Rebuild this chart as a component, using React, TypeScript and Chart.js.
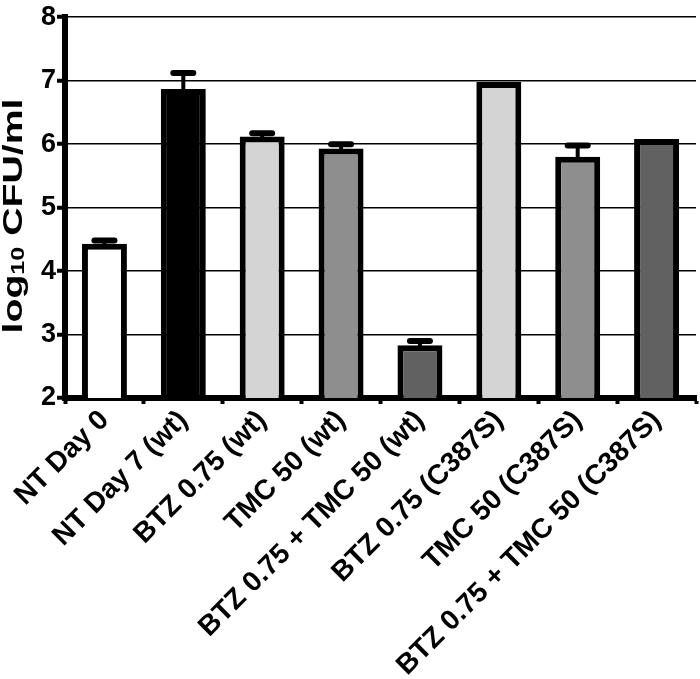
import React, { useEffect, useRef } from "react";
import { Chart, registerables } from "chart.js";

Chart.register(...registerables);

const categories = [
  "NT Day 0",
  "NT Day 7 (wt)",
  "BTZ 0.75 (wt)",
  "TMC 50 (wt)",
  "BTZ 0.75 + TMC 50 (wt)",
  "BTZ 0.75 (C387S)",
  "TMC 50 (C387S)",
  "BTZ 0.75 + TMC 50 (C387S)",
];
const meanValues = [4.43, 6.87, 6.12, 5.93, 2.83, 6.98, 5.8, 6.08];
const errorUpper = [4.48, 7.12, 6.17, 6.0, 2.9, 6.99, 5.98, 6.08];
const fillColors = ["#ffffff", "#000000", "#d4d4d4", "#8e8e8e", "#616161", "#d4d4d4", "#8e8e8e", "#616161"];
const yMin = 2;
const yMax = 8;
const yStep = 1;

const FONT = "'Liberation Sans', Arial, sans-serif";

const errorBarPlugin = {
  id: "errorBars",
  beforeDatasetsDraw(chart: any) {
    const ctx = chart.ctx;
    const meta = chart.getDatasetMeta(0);
    const yScale = chart.scales.y;
    ctx.save();
    ctx.strokeStyle = "#000";
    meta.data.forEach((el: any, i: number) => {
      const top = yScale.getPixelForValue(meanValues[i]);
      const ep = yScale.getPixelForValue(errorUpper[i]);
      if (top - ep < 1) return;
      ctx.lineCap = "butt";
      ctx.lineWidth = 4;
      ctx.beginPath();
      ctx.moveTo(el.x, top + 2);
      ctx.lineTo(el.x, ep);
      ctx.stroke();
      ctx.lineCap = "round";
      ctx.lineWidth = 6;
      ctx.beginPath();
      ctx.moveTo(el.x - 10, ep);
      ctx.lineTo(el.x + 10, ep);
      ctx.stroke();
    });
    ctx.restore();
  },
};

const titlePlugin = {
  id: "yTitle",
  afterDraw(chart: any) {
    const ctx = chart.ctx;
    const big = `bold 28px ${FONT}`;
    const small = `bold 18px ${FONT}`;
    ctx.save();
    ctx.fillStyle = "#000";
    ctx.textBaseline = "alphabetic";
    ctx.textAlign = "left";
    ctx.font = big;
    const w1 = ctx.measureText("log").width;
    const w3 = ctx.measureText(" CFU/ml").width;
    ctx.font = small;
    const w2 = ctx.measureText("10").width;
    const total = w1 + w2 + w3;
    ctx.translate(22, 216);
    ctx.rotate(-Math.PI / 2);
    ctx.scale(1.4, 1);
    let x = -total / 2;
    ctx.font = big;
    ctx.fillText("log", x, 0);
    x += w1;
    ctx.font = small;
    ctx.fillText("10", x, 2);
    x += w2;
    ctx.font = big;
    ctx.fillText(" CFU/ml", x, 0);
    ctx.restore();
  },
};

export default function App() {
  const ref = useRef<HTMLCanvasElement | null>(null);
  useEffect(() => {
    if (!ref.current) return;
    const chart = new Chart(ref.current, {
      type: "bar",
      data: {
        labels: categories,
        datasets: [
          {
            data: meanValues,
            backgroundColor: fillColors,
            borderColor: "#000000",
            borderWidth: 6,
            borderSkipped: false,
            barPercentage: 0.57,
            categoryPercentage: 1,
          },
        ],
      },
      options: {
        responsive: false,
        animation: false,
        devicePixelRatio: 1,
        layout: { padding: { top: 11, right: 4, left: 0, bottom: 0 } },
        plugins: { legend: { display: false }, tooltip: { enabled: false } },
        scales: {
          x: {
            offset: true,
            grid: {
              drawOnChartArea: false,
              drawTicks: true,
              tickLength: 6,
              tickWidth: 4,
              tickColor: "#000",
            },
            border: { display: true, color: "#000", width: 6 },
            ticks: {
              color: "#000",
              font: { family: FONT, size: 28, weight: "bold" },
              minRotation: 45,
              maxRotation: 45,
              autoSkip: false,
              padding: 0,
            },
            afterFit(scale: any) {
              scale.height = 281;
            },
          },
          y: {
            min: yMin,
            max: yMax,
            ticks: {
              stepSize: yStep,
              color: "#000",
              font: { family: FONT, size: 27, weight: "bold" },
              padding: 1,
            },
            grid: {
              color: "#000",
              lineWidth: 1.5,
              drawTicks: true,
              tickLength: 8,
              tickWidth: 4,
              tickColor: "#000",
            },
            border: { display: true, color: "#000", width: 6 },
            afterFit(scale: any) {
              scale.width = 65;
            },
          },
        },
      },
      plugins: [errorBarPlugin, titlePlugin],
    });
    return () => chart.destroy();
  }, []);
  return (
    <div style={{ position: "absolute", left: 0, top: 0, width: 700, height: 679, background: "#fff" }}>
      <canvas ref={ref} width={700} height={679} />
    </div>
  );
}
